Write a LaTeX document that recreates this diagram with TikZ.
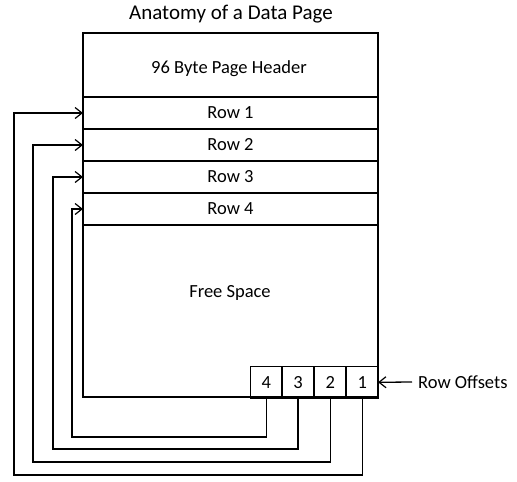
\documentclass[tikz,border=0pt]{standalone}
\usepackage{fontspec}
\setmainfont{Carlito}
\usetikzlibrary{arrows.meta}
\tikzset{
  box/.style={draw, line width=1.6pt, inner sep=0pt, outer sep=0pt, font=\fontsize{18.5}{20}\selectfont},
  lbl/.style={inner sep=0pt, font=\fontsize{18.5}{20}\selectfont},
  conn/.style={line width=1.3pt, -{Straight Barb[length=7pt,width=11pt,line width=1.2pt]}},
  plain/.style={line width=1.2pt}
}
\begin{document}
\begin{tikzpicture}[x=1pt,y=-1pt]
\useasboundingbox (0,0) rectangle (517,482);
\node[lbl, font=\fontsize{21}{24}\selectfont] (title) at (231,14) {Anatomy of a Data Page};
\node[box, minimum width=295pt, minimum height=364pt] (page) at (230.5,215) {};
\node[box, minimum width=295pt, minimum height=64pt] (hdr) at (230.5,65) {};
\node[lbl] (hdrtext) at (229,69) {96 Byte Page Header};
\node[box, minimum width=295pt, minimum height=32pt] (r1) at (230.5,113) {Row 1};
\node[box, minimum width=295pt, minimum height=32pt] (r2) at (230.5,145) {Row 2};
\node[box, minimum width=295pt, minimum height=32pt] (r3) at (230.5,177) {Row 3};
\node[box, minimum width=295pt, minimum height=32pt] (r4) at (230.5,209) {Row 4};
\node[lbl] (free) at (230,293) {Free Space};
\node[box, minimum width=31.5pt, minimum height=31.5pt] (o4) at (266.3,382.3) {4};
\node[box, minimum width=31.5pt, minimum height=31.5pt] (o3) at (298,382.3) {3};
\node[box, minimum width=31.5pt, minimum height=31.5pt] (o2) at (330.3,382.3) {2};
\node[box, minimum width=31.5pt, minimum height=31.5pt] (o1) at (362.3,382.3) {1};
\node[lbl, anchor=west] (ro) at (418,382) {Row Offsets};
\draw[conn] (ro.west) ++(-6,0) coordinate (roa) (roa) -- (o1.east);
\coordinate (c1) at (14,475);
\coordinate (c2) at (33,462);
\coordinate (c3) at (53,449);
\coordinate (c4) at (72,437);
\draw[conn] (o1.south) |- (c1) |- (r1.west);
\draw[conn] (o2.south) |- (c2) |- (r2.west);
\draw[conn] (o3.south) |- (c3) |- (r3.west);
\draw[conn] (o4.south) |- (c4) |- (r4.west);
\end{tikzpicture}
\end{document}
